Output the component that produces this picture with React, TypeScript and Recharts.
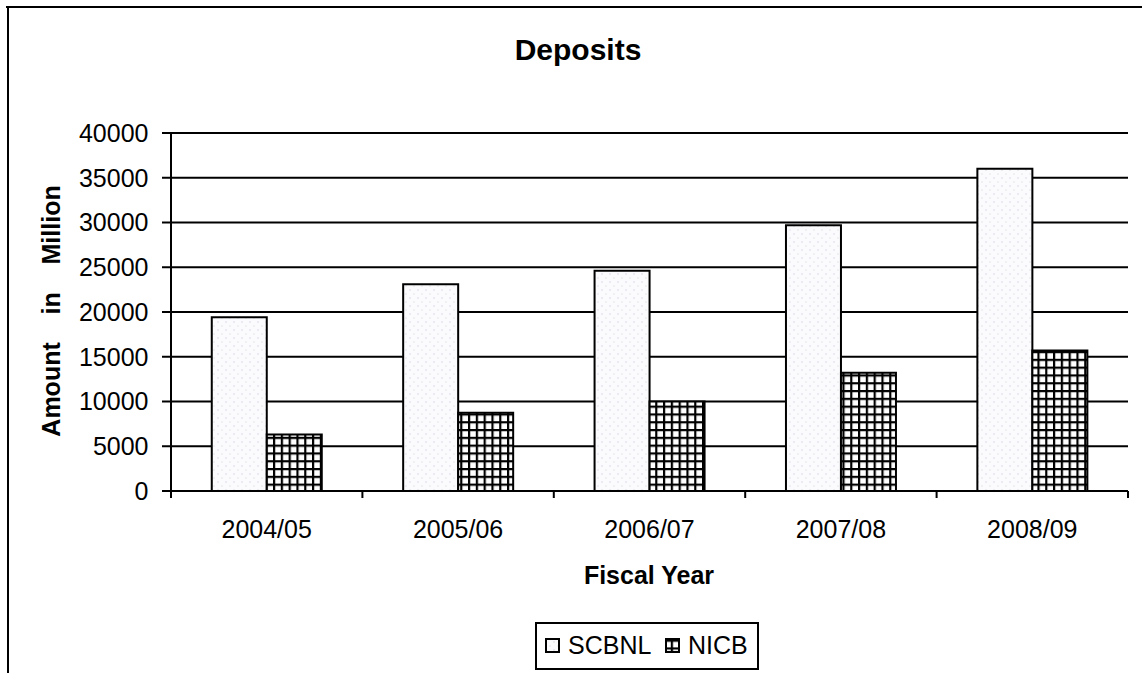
import React from 'react';
import { BarChart, Bar, XAxis, YAxis, CartesianGrid } from 'recharts';

const categories = ['2004/05', '2005/06', '2006/07', '2007/08', '2008/09'];
const seriesNames = ['SCBNL', 'NICB'];
const scbnlValues = [19400, 23100, 24600, 29700, 36000];
const nicbValues = [6300, 8750, 10000, 13200, 15700];
const yTicks = [0, 5000, 10000, 15000, 20000, 25000, 30000, 35000, 40000];

const data = categories.map((c, i) => ({
  year: c,
  [seriesNames[0]]: scbnlValues[i],
  [seriesNames[1]]: nicbValues[i],
}));

const FONT = '"Liberation Sans", Arial, sans-serif';
const W = 1142;
const H = 673;

// Category tick: label at band centre, tick marks at band boundaries.
const CategoryTick = (props: any) => {
  const { x, y, payload, index, visibleTicksCount, width } = props;
  const half =
    payload && Number.isFinite(payload.offset) && payload.offset > 0
      ? payload.offset
      : Number(width) / visibleTicksCount / 2;
  const isLast = index === visibleTicksCount - 1;
  return (
    <g>
      <line x1={x - half} x2={x - half} y1={y} y2={y + 7} stroke="#000" strokeWidth={2} />
      {isLast && (
        <line x1={x + half} x2={x + half} y1={y} y2={y + 7} stroke="#000" strokeWidth={2} />
      )}
      <text x={x} y={y + 47.3} textAnchor="middle" fontFamily={FONT} fontSize={25} fill="#000">
        {payload.value}
      </text>
    </g>
  );
};

export default function App() {
  return (
    <div
      style={{
        position: 'absolute',
        left: 0,
        top: 0,
        width: W,
        height: H,
        fontFamily: FONT,
        background: '#fff',
      }}
    >
      <BarChart
        width={W}
        height={H}
        data={data}
        margin={{ top: 133, right: 14, bottom: 122, left: 0 }}
        barCategoryGap="21.3%"
        barGap={0}
        style={{ fontFamily: FONT }}
      >
        <defs>
          <pattern id="dots" patternUnits="userSpaceOnUse" width="8" height="8">
            <rect width="8" height="8" fill="#fbfbfd" />
            <circle cx="2" cy="2" r="0.8" fill="#d8d8e2" />
            <circle cx="6" cy="6" r="0.8" fill="#e2e2ea" />
          </pattern>
          <pattern id="grid" patternUnits="userSpaceOnUse" width="7.8" height="7.8">
            <rect width="7.8" height="7.8" fill="#ffffff" />
            <rect width="7.8" height="2.2" fill="#000" />
            <rect width="2.2" height="7.8" fill="#000" />
          </pattern>
        </defs>
        <rect x={6} y={6} width={W - 6} height={2} fill="#000" />
        <rect x={7} y={6} width={2} height={H - 6} fill="#000" />
        <text
          x={578}
          y={60}
          textAnchor="middle"
          fontFamily={FONT}
          fontSize={30}
          fontWeight="bold"
          fill="#000"
        >
          Deposits
        </text>
        <text
          x={60}
          y={311}
          textAnchor="middle"
          fontFamily={FONT}
          fontSize={25}
          fontWeight="bold"
          fill="#000"
          transform="rotate(-90, 60, 311)"
        >
          {'Amount\u00a0\u00a0\u00a0\u00a0in\u00a0\u00a0\u00a0\u00a0Million'}
        </text>
        <text
          x={649}
          y={584}
          textAnchor="middle"
          fontFamily={FONT}
          fontSize={25}
          fontWeight="bold"
          fill="#000"
        >
          Fiscal Year
        </text>
        <CartesianGrid vertical={false} stroke="#000" strokeWidth={2} />
        <XAxis
          dataKey="year"
          height={60}
          axisLine={{ stroke: '#000', strokeWidth: 2 }}
          tickLine={false}
          tickSize={0}
          tickMargin={0}
          interval={0}
          tick={CategoryTick}
        />
        <YAxis
          width={171}
          domain={[0, 40000]}
          ticks={yTicks}
          interval={0}
          axisLine={{ stroke: '#000', strokeWidth: 2 }}
          tickLine={{ stroke: '#000', strokeWidth: 2 }}
          tickSize={9}
          tickMargin={13.5}
          tick={{ fill: '#000', fontSize: 25, fontFamily: FONT }}
        />
        <YAxis
          yAxisId="right"
          orientation="right"
          width={0}
          domain={[0, 1]}
          tick={false}
          tickLine={false}
          axisLine={{ stroke: '#000', strokeWidth: 2 }}
        />
        <Bar
          dataKey={seriesNames[0]}
          fill="url(#dots)"
          stroke="#000"
          strokeWidth={2}
          isAnimationActive={false}
        />
        <Bar
          dataKey={seriesNames[1]}
          fill="url(#grid)"
          stroke="#000"
          strokeWidth={2}
          isAnimationActive={false}
        />
        <g>
          <rect x={536} y={623} width={222} height={46} fill="#fff" stroke="#000" strokeWidth={2} />
          <rect x={546} y={639} width={13} height={13} fill="url(#dots)" stroke="#000" strokeWidth={2} />
          <text x={568} y={654} fontFamily={FONT} fontSize={25} fill="#000">
            {seriesNames[0]}
          </text>
          <rect x={666} y={639} width={13} height={13} fill="url(#grid)" stroke="#000" strokeWidth={2} />
          <text x={688} y={654} fontFamily={FONT} fontSize={25} fill="#000">
            {seriesNames[1]}
          </text>
        </g>
      </BarChart>
    </div>
  );
}
